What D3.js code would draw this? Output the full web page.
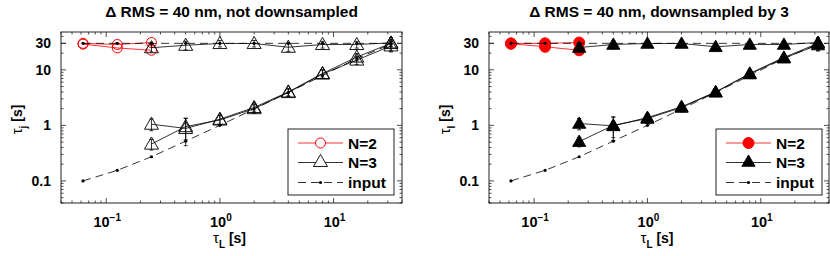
<!DOCTYPE html>
<html><head><meta charset="utf-8">
<script src="https://cdn.jsdelivr.net/npm/d3@7"></script>
<style>
body{margin:0;background:#fff;}
text{font-family:"Liberation Sans",Arial,sans-serif;}
</style></head>
<body><svg id="c" width="830" height="256"></svg>
<script>
// ---- data ----
const tauL = [0.0625, 0.125, 0.25, 0.5, 1, 2, 4, 8, 16, 32];
const inputSlow = [30, 30, 30, 30, 30, 30, 30, 30, 30, 30];
const inputFast = [0.1, 0.155, 0.272, 0.52, 1.0, 1.97, 3.9, 7.9, 16, 29];

const xN2 = [0.0625, 0.125, 0.25];
const xN3 = [0.25, 0.5, 1, 2, 4, 8, 16, 32];

// not downsampled
const A_n2a = [30, 28.6, 31];
const A_n2b = [29, 24.8, 22.5];
const A_n3slow = [25, 27.7, 29.8, 29.8, 25.5, 28.6, 28.6, 30.5];
const A_n3mid  = [1.05, 0.88, 1.29, 2.1, 4.0, 8.6, 17, 30];
const A_n3fast = [0.46, 0.95, 1.25, 2.0, 3.9, 8.4, 15, 27];
const A_errSlow = [4, 5, 4, 4, 4, 4, 4, 4];
const A_errMid  = [0.25, 0.45, 0.25, 0.35, 0.6, 1.5, 2.5, 8];
const A_errFast = [0.1, 0.4, 0.25, 0.35, 0.6, 1.4, 2.5, 6];

// downsampled by 3
const B_n2a = [30, 30, 31];
const B_n2b = [29.5, 26, 22.5];
const B_n3slow = [25.2, 28.6, 29.8, 29.8, 26, 28.6, 28.6, 31];
const B_n3mid  = [1.08, 0.98, 1.38, 2.16, 4.0, 8.6, 16.7, 30];
const B_n3fast = [0.51, 1.0, 1.33, 2.1, 3.95, 8.4, 16.2, 28];
const B_errSlow = [4, 5, 4, 4, 4, 4, 4, 4];
const B_errMid  = [0.25, 0.45, 0.25, 0.35, 0.6, 1.5, 2.5, 8];
const B_errFast = [0.1, 0.4, 0.25, 0.35, 0.6, 1.4, 2.5, 6];

const xMajor = [0.1, 1, 10];
const xMajorLabels = [["10","\u22121"],["10","0"],["10","1"]];
const yMajor = [0.1, 1, 10, 30];
const yMajorLabels = ["0.1", "1", "10", "30"];
const legendLabels = ["N=2", "N=3", "input"];

const svg = d3.select("#c");
const RED = "#ff0000";

function minorTicks(lo, hi){
  const out=[];
  for(let e=-2;e<=2;e++){
    for(let m=1;m<10;m++){
      const v=m*Math.pow(10,e);
      if(v>=lo*0.9999 && v<=hi*1.0001) out.push(v);
    }
  }
  return out;
}

function panel(opt){
  const L=opt.left, R=opt.right, T=32, B=203;
  const x=d3.scaleLog().domain([0.04,40]).range([L,R]);
  const y=d3.scaleLog().domain([0.04,48]).range([B,T]);
  const g=svg.append("g");

  // ticks
  const tk=g.append("g").attr("stroke","#222").attr("stroke-width",0.8);
  const xmin=minorTicks(0.04,40), ymin=minorTicks(0.04,48);
  xmin.forEach(v=>{
    const len = xMajor.includes(v)?5:2.5;
    tk.append("line").attr("x1",x(v)).attr("x2",x(v)).attr("y1",B).attr("y2",B-len);
    tk.append("line").attr("x1",x(v)).attr("x2",x(v)).attr("y1",T).attr("y2",T+len);
  });
  ymin.concat([30]).forEach(v=>{
    const len = yMajor.includes(v)?5:2.5;
    tk.append("line").attr("y1",y(v)).attr("y2",y(v)).attr("x1",L).attr("x2",L+len);
    tk.append("line").attr("y1",y(v)).attr("y2",y(v)).attr("x1",R).attr("x2",R-len);
  });

  // tick labels
  yMajor.forEach((v,i)=>{
    g.append("text").attr("x",L-10).attr("y",y(v)+5).attr("text-anchor","end")
      .attr("font-size",14).attr("font-weight","bold").text(yMajorLabels[i]);
  });
  xMajor.forEach((v,i)=>{
    const t=g.append("text").attr("x",x(v)+1).attr("y",227).attr("text-anchor","middle")
      .attr("font-size",14.5).attr("font-weight","bold");
    t.append("tspan").text(xMajorLabels[i][0]);
    t.append("tspan").attr("dy",-6).attr("font-size",10).text(xMajorLabels[i][1]);
  });

  // axis labels
  const xl=g.append("text").attr("x",(L+R)/2-2).attr("y",243).attr("text-anchor","middle")
    .attr("font-size",14).attr("font-weight","bold");
  xl.append("tspan").attr("font-weight","normal").attr("font-size",15).text("\u03c4");
  xl.append("tspan").attr("dy",5).attr("font-size",10).text("L");
  xl.append("tspan").attr("dy",-5).text(" [s]");

  const yl=g.append("text").attr("transform",`translate(${L-39},${(T+B)/2+2}) rotate(-90)`)
    .attr("text-anchor","middle").attr("font-size",14).attr("font-weight","bold");
  yl.append("tspan").attr("font-weight","normal").attr("font-size",15).text("\u03c4");
  yl.append("tspan").attr("dy",5).attr("font-size",10).text(opt.sub);
  yl.append("tspan").attr("dy",-5).text(" [s]");

  // title
  g.append("text").attr("x",(L+R)/2).attr("y",17).attr("text-anchor","middle")
    .attr("font-size",15.5).attr("font-weight","bold").text(opt.title);

  const line=d3.line().x(d=>x(d[0])).y(d=>y(d[1]));
  const plot=g.append("g");

  // N=2
  [opt.n2a,opt.n2b].forEach(arr=>{
    plot.append("path").datum(xN2.map((v,i)=>[v,arr[i]])).attr("d",line)
      .attr("fill","none").attr("stroke",RED).attr("stroke-width",0.8);
  });
  [opt.n2a,opt.n2b].forEach(arr=>{
    xN2.forEach((v,i)=>{
      plot.append("circle").attr("cx",x(v)).attr("cy",y(arr[i])).attr("r",opt.filled?5.5:5)
        .attr("fill",opt.filled?RED:"none").attr("stroke",RED).attr("stroke-width",1);
    });
  });

  // N=3
  const tri=d3.symbol().type(d3.symbolTriangle).size(opt.filled?75:85);
  [[opt.n3slow,opt.errSlow],[opt.n3mid,opt.errMid],[opt.n3fast,opt.errFast]].forEach(([arr,err])=>{
    xN3.forEach((v,i)=>{
      const lo=Math.max(arr[i]-err[i],0.05), hi=arr[i]+err[i];
      const cx=x(v);
      plot.append("line").attr("x1",cx).attr("x2",cx).attr("y1",y(lo)).attr("y2",y(hi))
        .attr("stroke","#000").attr("stroke-width",0.8);
      [lo,hi].forEach(e=>plot.append("line").attr("x1",cx-2).attr("x2",cx+2)
        .attr("y1",y(e)).attr("y2",y(e)).attr("stroke","#000").attr("stroke-width",0.8));
    });
    plot.append("path").datum(xN3.map((v,i)=>[v,arr[i]])).attr("d",line)
      .attr("fill","none").attr("stroke","#000").attr("stroke-width",0.8);
  });
  [opt.n3slow,opt.n3mid,opt.n3fast].forEach(arr=>{
    xN3.forEach((v,i)=>{
      plot.append("path").attr("d",tri).attr("transform",`translate(${x(v)},${y(arr[i])+1})`)
        .attr("fill",opt.filled?"#000":"#fff").attr("fill-opacity",opt.filled?1:0).attr("stroke","#000").attr("stroke-width",0.9);
    });
  });

  // input
  [inputSlow,inputFast].forEach(arr=>{
    plot.append("path").datum(tauL.map((v,i)=>[v,arr[i]])).attr("d",line)
      .attr("fill","none").attr("stroke","#000").attr("stroke-width",0.8).attr("stroke-dasharray","8,5");
    tauL.forEach((v,i)=>plot.append("circle").attr("cx",x(v)).attr("cy",y(arr[i])).attr("r",1.6).attr("fill","#000"));
  });

  // frame
  g.append("rect").attr("x",L).attr("y",T).attr("width",R-L).attr("height",B-T)
    .attr("fill","none").attr("stroke","#222").attr("stroke-width",1);

  // legend
  const lx=opt.legX, ly=129, lw=106, lh=66;
  const lg=g.append("g");
  lg.append("rect").attr("x",lx).attr("y",ly).attr("width",lw).attr("height",lh)
    .attr("fill","#fff").attr("stroke","#222").attr("stroke-width",1);
  const rows=[14,33.5,53.5];
  const x1=lx+10,x2=lx+55,xm=(x1+x2)/2;
  lg.append("line").attr("x1",x1).attr("x2",x2).attr("y1",ly+rows[0]).attr("y2",ly+rows[0]).attr("stroke",RED).attr("stroke-width",0.8);
  lg.append("circle").attr("cx",xm).attr("cy",ly+rows[0]).attr("r",opt.filled?5.5:5)
    .attr("fill",opt.filled?RED:"#fff").attr("stroke",RED);
  lg.append("line").attr("x1",x1).attr("x2",x2).attr("y1",ly+rows[1]).attr("y2",ly+rows[1]).attr("stroke","#000").attr("stroke-width",0.8);
  lg.append("path").attr("d",tri).attr("transform",`translate(${xm},${ly+rows[1]})`)
    .attr("fill",opt.filled?"#000":"#fff").attr("stroke","#000").attr("stroke-width",0.9);
  lg.append("line").attr("x1",x1).attr("x2",x2).attr("y1",ly+rows[2]).attr("y2",ly+rows[2]).attr("stroke","#000").attr("stroke-width",0.8).attr("stroke-dasharray","8,5");
  lg.append("circle").attr("cx",xm).attr("cy",ly+rows[2]).attr("r",1.6).attr("fill","#000");
  legendLabels.forEach((s,i)=>lg.append("text").attr("x",x2+5).attr("y",ly+rows[i]+5.5)
    .attr("font-size",15.5).attr("font-weight","bold").text(s));
}

panel({left:61,right:402,title:"\u0394 RMS = 40 nm, not downsampled",sub:"j",filled:false,legX:288,
  n2a:A_n2a,n2b:A_n2b,n3slow:A_n3slow,n3mid:A_n3mid,n3fast:A_n3fast,errSlow:A_errSlow,errMid:A_errMid,errFast:A_errFast});
panel({left:489,right:829,title:"\u0394 RMS = 40 nm, downsampled by 3",sub:"l",filled:true,legX:716,
  n2a:B_n2a,n2b:B_n2b,n3slow:B_n3slow,n3mid:B_n3mid,n3fast:B_n3fast,errSlow:B_errSlow,errMid:B_errMid,errFast:B_errFast});
</script></body></html>
